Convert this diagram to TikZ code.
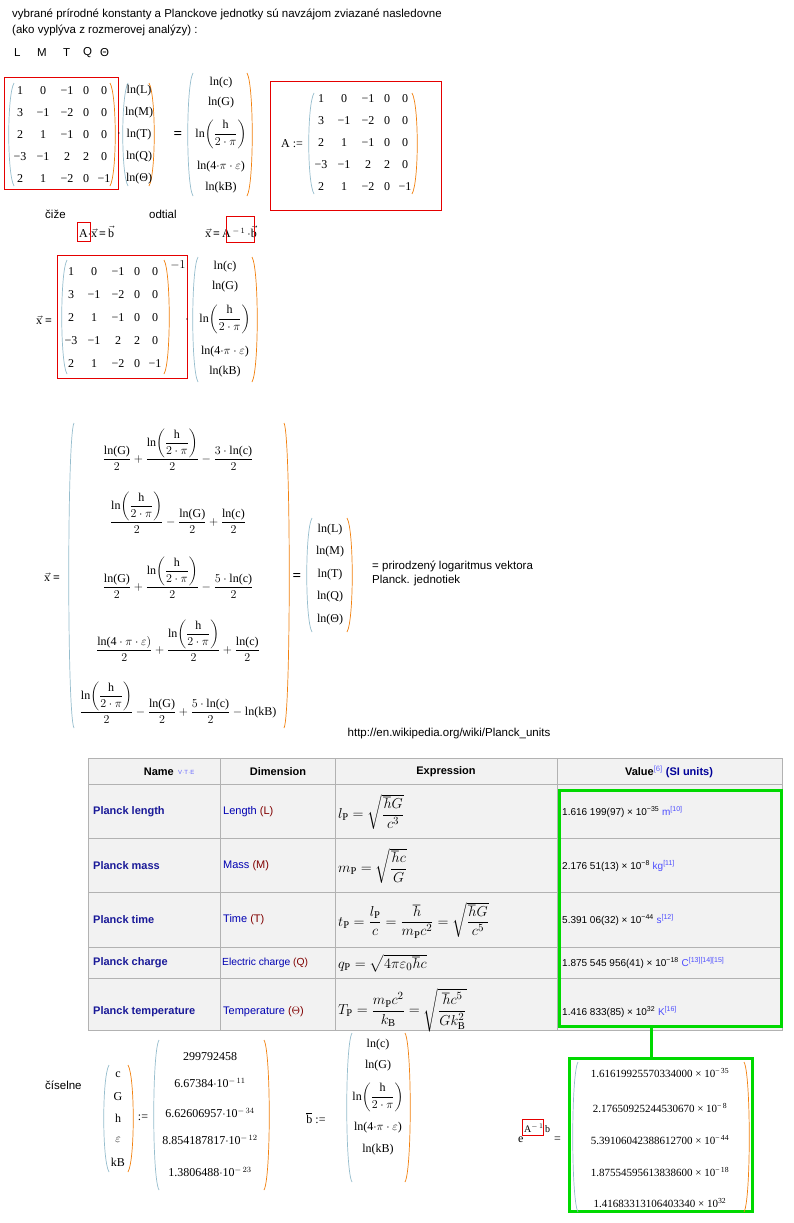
\documentclass[tikz,border=0pt]{standalone}
\usepackage{fontspec}
\usepackage{amsmath}
\setmainfont{Liberation Serif}
\setsansfont{Liberation Sans}
\begin{document}
\begin{tikzpicture}[x=1pt,y=-1pt,
  txt/.style={font=\sffamily\fontsize{11.5}{13}\selectfont,anchor=west,inner sep=0pt},
  num/.style={font=\rmfamily\fontsize{12}{14}\selectfont,inner sep=0pt},
  lpar/.style={draw=cyan!40!gray!70,line width=0.7pt},
  rpar/.style={draw=orange!80!brown,line width=0.7pt},
  redbox/.style={draw=red!90!black,line width=0.8pt},
  green/.style={draw=green!85!black,line width=3pt},
  cell/.style={draw=gray!60,fill=black!5,line width=0.5pt},
  tname/.style={font=\sffamily\bfseries\fontsize{11}{13}\selectfont,text=blue!55!black!90,anchor=west,inner sep=0pt},
  tdim/.style={font=\sffamily\fontsize{11}{13}\selectfont,text=blue!70!black,anchor=west,inner sep=0pt},
  tval/.style={font=\sffamily\fontsize{10}{12}\selectfont,anchor=west,inner sep=0pt},
  texp/.style={anchor=west,inner sep=0pt,font=\fontsize{15}{17}\selectfont}]
\newcommand\pp[4]{%
 \draw[lpar] (#1+6,#3) .. controls (#1-1,#3+12) and (#1-1,#4-12) .. (#1+6,#4);
 \draw[rpar] (#2-6,#3) .. controls (#2+1,#3+12) and (#2+1,#4-12) .. (#2-6,#4);}
\newcommand\mymat[4]{% name, x0, y0, dy
 \foreach \row [count=\r] in {{1,0,−1,0,0},{3,−1,−2,0,0},{2,1,−1,0,0},{−3,−1,2,2,0},{2,1,−2,0,−1}}{
  \foreach \v [count=\c] in \row {
   \pgfmathsetmacro\xx{#2+{0,23,47,66,84}[\c-1]}
   \pgfmathsetmacro\yy{#3+(\r-1)*#4}
   \node[num] (#1-\r-\c) at (\xx,\yy) {\v};}}}
\fill[white] (0,0) rectangle (794,1223);
\useasboundingbox (0,0) rectangle (794,1223);
% header text
\node[txt] (t1) at (12,14) {vybrané prírodné konstanty a Planckove jednotky sú navzájom zviazané nasledovne};
\node[txt] (t2) at (12,30) {(ako vyplýva z rozmerovej analýzy) :};
\foreach \s/\x [count=\i] in {L/14,M/37,T/63,Q/83,Θ/100}
  \node[txt] (dim\i) at (\x,53) {\s};
% first equation
\draw[redbox] (4,77) rectangle (118,189);
\pp{8}{116}{83}{186}
\mymat{ma}{20}{91}{22}
\node[num] (dot1) at (119,134) {$\cdot$};
\pp{122}{155}{83}{186}
\foreach \s [count=\i] in {ln(L),ln(M),ln(T),ln(Q),ln(Θ)}
  \node[num] (va\i) at (139,69+22*\i) {\s};
\node[num,font=\rmfamily\bfseries\fontsize{15}{15}\selectfont] (eq1) at (178,135) {=};
\pp{187}{253}{73}{196}
\node[num] (b1) at (221,83) {ln(c)};
\node[num] (b2) at (221,103) {ln(G)};
\node[num] (b3) at (221,134) {ln$\left(\dfrac{\text{h}}{2\cdot\pi}\right)$};
\node[num] (b4) at (221,167) {ln(4$\cdot\pi\cdot\varepsilon$)};
\node[num] (b5) at (221,188) {ln(kB)};
% A :=
\draw[redbox] (270,81) rectangle (441,210);
\node[num] (Adef) at (292,144) {A :=};
\pp{308}{418}{93}{194}
\mymat{mb}{321}{99}{22}
% ciže / odtial
\node[txt] (cize) at (45,214) {čiže};
\node[txt] (odtial) at (149,214) {odtial};
\node[num,anchor=west] (ax) at (79,232) {A$\cdot\vec{\text{x}}$\,\textbf{=}\,$\vec{\text{b}}$};
\draw[redbox] (77,222) rectangle (90,241);
\node[num,anchor=west] (xa) at (205,232) {$\vec{\text{x}}$\,\textbf{=}\,A\,$^{-\,1}$\,$\cdot\vec{\text{b}}$};
\draw[redbox] (226,216) rectangle (254,242);
% second equation
\node[num,anchor=west] (x2) at (36,320) {$\vec{\text{x}}$ \textbf{=}};
\draw[redbox] (57,255) rectangle (187,378);
\pp{61}{170}{260}{374}
\mymat{mc}{71}{272}{23}
\node[num] (inv) at (178,265) {$-1$};
\node[num] (dot2) at (187,320) {$\cdot$};
\pp{192}{258}{257}{382}
\node[num] (c1) at (225,267) {ln(c)};
\node[num] (c2) at (225,287) {ln(G)};
\node[num] (c3) at (225,319) {ln$\left(\dfrac{\text{h}}{2\cdot\pi}\right)$};
\node[num] (c4) at (225,352) {ln(4$\cdot\pi\cdot\varepsilon$)};
\node[num] (c5) at (225,372) {ln(kB)};
% big x vector
\node[num,anchor=west] (x3) at (44,577) {$\vec{\text{x}}$ \textbf{=}};
\pp{68}{290}{423}{728}
\newcommand\hh{\text{ln}\!\left(\dfrac{\text{h}}{2\cdot\pi}\right)}
\begin{scope}[every node/.append style={font=\rmfamily\fontsize{11}{13}\selectfont}]
\node[num] (r1) at (178,450) {$\dfrac{\text{ln(G)}}{2}+\dfrac{\hh}{2}-\dfrac{3\cdot\text{ln(c)}}{2}$};
\node[num] (r2) at (178,513) {$\dfrac{\hh}{2}-\dfrac{\text{ln(G)}}{2}+\dfrac{\text{ln(c)}}{2}$};
\node[num] (r3) at (178,578) {$\dfrac{\text{ln(G)}}{2}+\dfrac{\hh}{2}-\dfrac{5\cdot\text{ln(c)}}{2}$};
\node[num] (r4) at (178,641) {$\dfrac{\text{ln(4}\cdot\pi\cdot\varepsilon)}{2}+\dfrac{\hh}{2}+\dfrac{\text{ln(c)}}{2}$};
\node[num] (r5) at (178,703) {$\dfrac{\hh}{2}-\dfrac{\text{ln(G)}}{2}+\dfrac{5\cdot\text{ln(c)}}{2}-\text{ln(kB)}$};
\end{scope}
\node[num,font=\rmfamily\bfseries\fontsize{15}{15}\selectfont] (eq3) at (297,577) {=};
\pp{306}{353}{518}{632}
\foreach \s [count=\i] in {ln(L),ln(M),ln(T),ln(Q),ln(Θ)}
  \node[num] (vl\i) at (330,507+22.5*\i) {\s};
\node[txt] (pr1) at (372,566) {= prirodzený logaritmus vektora};
\node[txt] (pr2) at (372,581) {Planck. jednotiek};
\node[txt,anchor=center] (url) at (449,734) {http://en.wikipedia.org/wiki/Planck\_units};
% table
\foreach \ya/\yb in {758/784,784/838,838/892,892/947,947/978,978/1030}
  \foreach \xa/\xb in {88/220,220/335,335/557,557/782}
    \draw[cell] (\xa,\ya) rectangle (\xb,\yb);
\node[font=\sffamily\bfseries\fontsize{11}{13}\selectfont,anchor=east,inner sep=0pt] (hname) at (174,772) {Name};
\node[font=\sffamily\fontsize{6}{7}\selectfont,text=blue!60,anchor=west,inner sep=0pt] (vte) at (178,772) {V$\cdot$T$\cdot$E};
\node[font=\sffamily\bfseries\fontsize{11}{13}\selectfont,inner sep=0pt] (hdim) at (278,772) {Dimension};
\node[font=\sffamily\bfseries\fontsize{11}{13}\selectfont,inner sep=0pt] (hexp) at (446,772) {Expression};
\node[font=\sffamily\bfseries\fontsize{11}{13}\selectfont,inner sep=0pt] (hval) at (669,772) {Value\textsuperscript{\textcolor{blue!60}{\textmd{[6]}}} \textcolor{blue!60!black}{(SI units)}};
\node[tname] (n1) at (93,812) {Planck length};
\node[tname] (n2) at (93,866) {Planck mass};
\node[tname] (n3) at (93,920) {Planck time};
\node[tname] (n4) at (93,963) {Planck charge};
\node[tname] (n5) at (93,1012) {Planck temperature};
\node[tdim] (d1) at (223,812) {Length \textcolor{red!50!black}{(L)}};
\node[tdim] (d2) at (223,866) {Mass \textcolor{red!50!black}{(M)}};
\node[tdim] (d3) at (223,920) {Time \textcolor{red!50!black}{(T)}};
\node[tdim,font=\sffamily\fontsize{10.3}{12}\selectfont] (d4) at (222,963) {Electric charge \textcolor{red!50!black}{(Q)}};
\node[tdim] (d5) at (223,1012) {Temperature \textcolor{red!50!black}{($\Theta$)}};
\node[texp] (e1) at (338,812) {$l_{\mathrm P}=\sqrt{\dfrac{\hbar G}{c^3}}$};
\node[texp] (e2) at (338,866) {$m_{\mathrm P}=\sqrt{\dfrac{\hbar c}{G}}$};
\node[texp] (e3) at (338,920) {$t_{\mathrm P}=\dfrac{l_{\mathrm P}}{c}=\dfrac{\hbar}{m_{\mathrm P}c^2}=\sqrt{\dfrac{\hbar G}{c^5}}$};
\node[texp] (e4) at (338,963) {$q_{\mathrm P}=\sqrt{4\pi\varepsilon_0\hbar c}$};
\node[texp] (e5) at (338,1010) {$T_{\mathrm P}=\dfrac{m_{\mathrm P}c^2}{k_{\mathrm B}}=\sqrt{\dfrac{\hbar c^5}{Gk_{\mathrm B}^2}}$};
\newcommand\rf[1]{\textsuperscript{\textcolor{blue!70}{#1}}}
\node[tval] (v1) at (562,812) {1.616 199(97) × 10\textsuperscript{−35} \textcolor{blue!70}{m}\rf{[10]}};
\node[tval] (v2) at (562,866) {2.176 51(13) × 10\textsuperscript{−8} \textcolor{blue!70}{kg}\rf{[11]}};
\node[tval] (v3) at (562,920) {5.391 06(32) × 10\textsuperscript{−44} \textcolor{blue!70}{s}\rf{[12]}};
\node[tval] (v4) at (562,963) {1.875 545 956(41) × 10\textsuperscript{−18} \textcolor{blue!70}{C}\rf{[13][14][15]}};
\node[tval] (v5) at (562,1012) {1.416 833(85) × 10\textsuperscript{32} \textcolor{blue!70}{K}\rf{[16]}};
\draw[green] (559,790) rectangle (781,1026);
\coordinate (g1) at (651,1026);
\draw[green] (569,1058) rectangle (752,1211);
\draw[green] (g1) -- (651,1058);
% číselne
\node[txt] (cis) at (45,1085) {číselne};
\pp{103}{134}{1065}{1172}
\foreach \s/\y [count=\i] in {c/1075,G/1097,h/1118,$\varepsilon$/1140,kB/1162}
  \node[num] (k\i) at (118,\y) {\s};
\node[num] (def1) at (143,1118) {:=};
\pp{153}{270}{1040}{1190}
\node[num] (n1v) at (210,1057) {299792458};
\node[num] (n2v) at (210,1083) {6.67384$\cdot$10$^{-\,11}$};
\node[num] (n3v) at (210,1113) {6.62606957$\cdot$10$^{-\,34}$};
\node[num] (n4v) at (210,1140) {8.854187817$\cdot$10$^{-\,12}$};
\node[num] (n5v) at (210,1172) {1.3806488$\cdot$10$^{-\,23}$};
\node[num] (bdef) at (316,1118) {$\overline{\text{b}}$ :=};
\pp{346}{411}{1033}{1182}
\node[num] (bb1) at (378,1045) {ln(c)};
\node[num] (bb2) at (378,1066) {ln(G)};
\node[num] (bb3) at (378,1097) {ln$\left(\dfrac{\text{h}}{2\cdot\pi}\right)$};
\node[num] (bb4) at (378,1128) {ln(4$\cdot\pi\cdot\varepsilon$)};
\node[num] (bb5) at (378,1150) {ln(kB)};
\node[num,anchor=west] (expo) at (518,1140) {e};
\node[num,anchor=west,font=\rmfamily\fontsize{10}{12}\selectfont] (expo2) at (524,1128) {A$^{-\,1}$\,b};
\node[num,anchor=west] (expo3) at (554,1140) {=};
\draw[redbox] (522,1119) rectangle (543,1135);
\pp{572}{750}{1062}{1212}
\foreach \s/\e/\y [count=\i] in {1.61619925570334000/−\,35/1073,2.17650925244530670/−\,8/1108,5.39106042388612700/−\,44/1140,1.87554595613838600/−\,18/1172,1.41683313106403340/32/1203}
  \node[num,font=\rmfamily\fontsize{11}{13}\selectfont] (res\i) at (660,\y) {\s\ × 10\textsuperscript{\e}};
\end{tikzpicture}
\end{document}
